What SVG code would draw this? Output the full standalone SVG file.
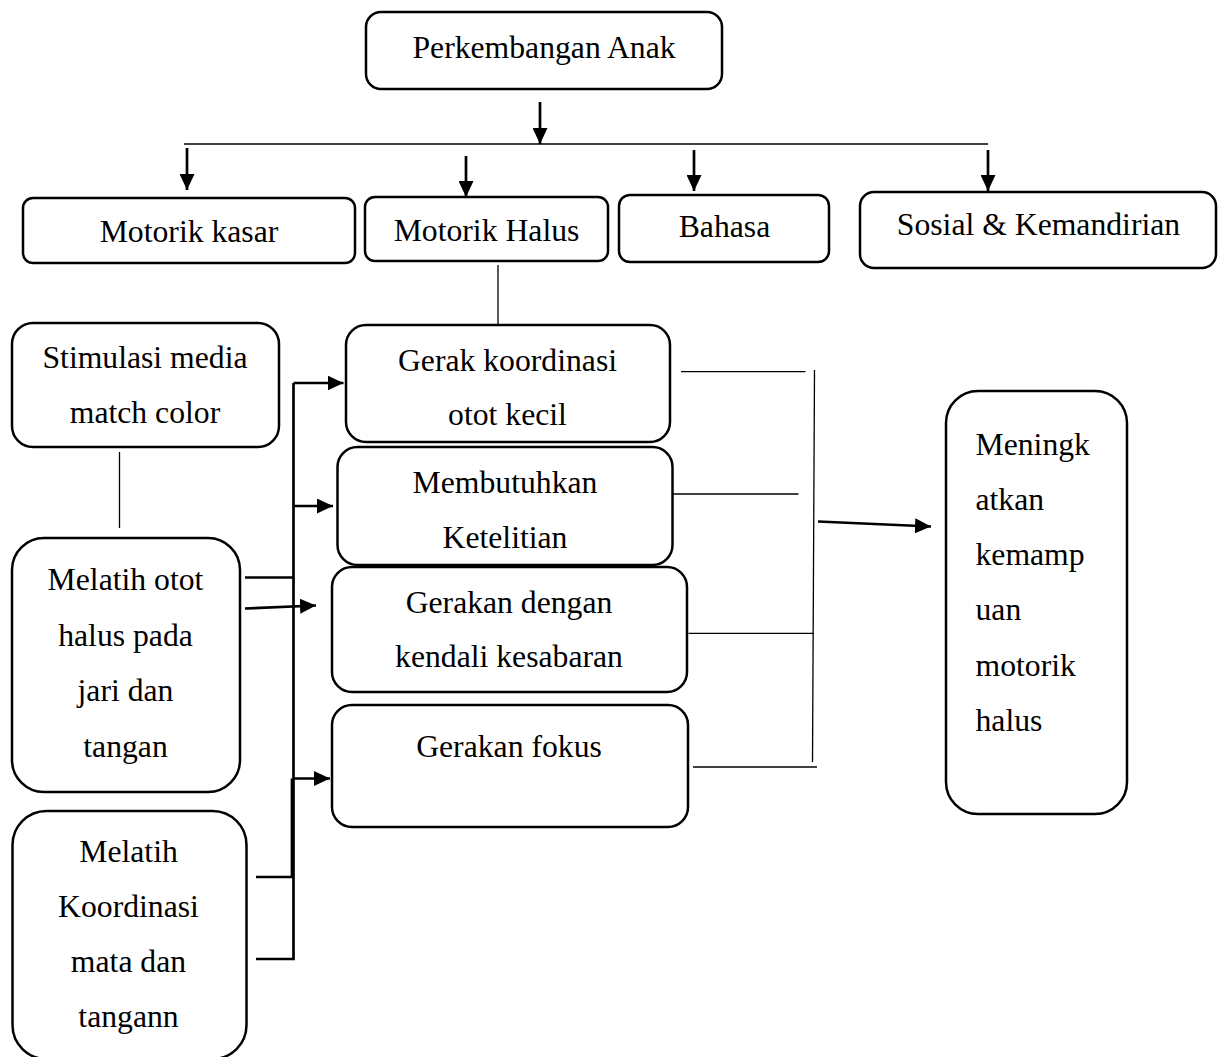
<svg xmlns="http://www.w3.org/2000/svg" width="1219" height="1057" viewBox="0 0 1219 1057">
<style>
.box{fill:#fff;stroke:#000;stroke-width:2.5}
.t{font-family:"Liberation Serif","Times New Roman",serif;font-size:31.7px;fill:#000;text-anchor:middle}
.tl{font-family:"Liberation Serif","Times New Roman",serif;font-size:31.7px;fill:#000;text-anchor:start}
.thin{fill:none;stroke:#000;stroke-width:1.3}
.thick{fill:none;stroke:#000;stroke-width:2.7}
</style>
<defs>
<marker id="ah" markerUnits="userSpaceOnUse" markerWidth="16" markerHeight="15" refX="16" refY="7.5" orient="auto">
<path d="M0,0 L16,7.5 L0,15 z" fill="#000"/>
</marker>
</defs>
<rect width="1219" height="1057" fill="#fff"/>

<g id="connectors">
<line class="thick" x1="540" y1="102" x2="540" y2="144" marker-end="url(#ah)"/>
<line class="thin" x1="184" y1="144" x2="988" y2="144"/>
<line class="thick" x1="187" y1="148" x2="187" y2="190" marker-end="url(#ah)"/>
<line class="thick" x1="466" y1="156" x2="466" y2="197" marker-end="url(#ah)"/>
<line class="thick" x1="694" y1="150" x2="694" y2="191" marker-end="url(#ah)"/>
<line class="thick" x1="988" y1="150" x2="988" y2="191" marker-end="url(#ah)"/>
<line class="thin" x1="498" y1="265" x2="498" y2="325"/>
<line class="thin" x1="119.5" y1="452" x2="119.5" y2="528"/>
<polyline class="thick" points="256,959 293.5,959 293.5,383"/>
<line class="thick" x1="293.5" y1="383" x2="343.5" y2="383" marker-end="url(#ah)"/>
<line class="thick" x1="293.5" y1="506" x2="333" y2="506" marker-end="url(#ah)"/>
<line class="thick" x1="245" y1="577.5" x2="293.5" y2="577.5"/>
<line class="thick" x1="245" y1="608.5" x2="316" y2="605.5" marker-end="url(#ah)"/>
<line class="thick" x1="293.5" y1="778.5" x2="330" y2="778.5" marker-end="url(#ah)"/>
<polyline class="thick" points="256,877 292,877 292,778.5"/>
<line class="thin" x1="681" y1="371.7" x2="805.5" y2="371.7"/>
<line class="thin" x1="673.5" y1="494" x2="798.5" y2="494"/>
<line class="thin" x1="688.5" y1="633.3" x2="813.5" y2="633.3"/>
<line class="thin" x1="693" y1="767" x2="817" y2="767"/>
<line class="thin" x1="814.5" y1="370" x2="812.5" y2="762"/>
<line class="thick" x1="818" y1="521.5" x2="931" y2="526.5" marker-end="url(#ah)"/>
</g>

<g id="n-perkembangan">
<rect class="box" x="366" y="12" width="356" height="77" rx="15"/>
<text class="t" x="544" y="58">Perkembangan Anak</text>
</g>
<g id="n-motorik-kasar">
<rect class="box" x="23" y="198" width="332" height="65" rx="10"/>
<text class="t" x="189" y="242">Motorik kasar</text>
</g>
<g id="n-motorik-halus">
<rect class="box" x="365" y="197" width="243" height="64" rx="10"/>
<text class="t" x="486.5" y="241">Motorik Halus</text>
</g>
<g id="n-bahasa">
<rect class="box" x="619" y="195" width="210" height="67" rx="11"/>
<text class="t" x="724.5" y="237">Bahasa</text>
</g>
<g id="n-sosial">
<rect class="box" x="860" y="192" width="356" height="76" rx="14"/>
<text class="t" x="1038.5" y="235">Sosial &amp; Kemandirian</text>
</g>
<g id="n-stimulasi">
<rect class="box" x="12" y="323" width="267" height="124" rx="21"/>
<text class="t" x="145" y="368">Stimulasi media</text>
<text class="t" x="145" y="423">match color</text>
</g>
<g id="n-gerak-koordinasi">
<rect class="box" x="346" y="325" width="324" height="117" rx="20"/>
<text class="t" x="507.5" y="371">Gerak koordinasi</text>
<text class="t" x="507.5" y="425">otot kecil</text>
</g>
<g id="n-membutuhkan">
<rect class="box" x="337.5" y="447" width="335" height="118" rx="20"/>
<text class="t" x="505" y="493">Membutuhkan</text>
<text class="t" x="505" y="548">Ketelitian</text>
</g>
<g id="n-gerakan-dengan">
<rect class="box" x="332" y="567" width="355" height="125" rx="20"/>
<text class="t" x="509" y="613">Gerakan dengan</text>
<text class="t" x="509" y="667">kendali kesabaran</text>
</g>
<g id="n-gerakan-fokus">
<rect class="box" x="332" y="705" width="356" height="122" rx="20"/>
<text class="t" x="509" y="757">Gerakan fokus</text>
</g>
<g id="n-melatih-otot">
<rect class="box" x="12" y="538" width="228" height="254" rx="32"/>
<text class="t" x="125.5" y="590">Melatih otot</text>
<text class="t" x="125.5" y="645.5">halus pada</text>
<text class="t" x="125.5" y="701">jari dan</text>
<text class="t" x="125.5" y="756.5">tangan</text>
</g>
<g id="n-melatih-koordinasi">
<rect class="box" x="12.5" y="811" width="234" height="248" rx="34"/>
<text class="t" x="128.5" y="862">Melatih</text>
<text class="t" x="128.5" y="917">Koordinasi</text>
<text class="t" x="128.5" y="972">mata dan</text>
<text class="t" x="128.5" y="1027">tangann</text>
</g>
<g id="n-meningkatkan">
<rect class="box" x="946" y="391" width="181" height="423" rx="32"/>
<text class="tl" x="975.5" y="455">Meningk</text>
<text class="tl" x="975.5" y="510">atkan</text>
<text class="tl" x="975.5" y="565">kemamp</text>
<text class="tl" x="975.5" y="620">uan</text>
<text class="tl" x="975.5" y="676">motorik</text>
<text class="tl" x="975.5" y="731">halus</text>
</g>
</svg>
